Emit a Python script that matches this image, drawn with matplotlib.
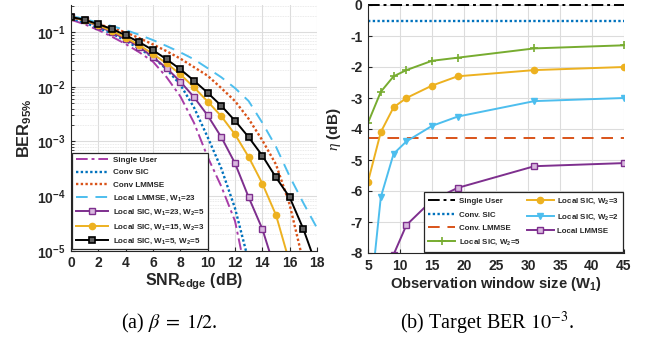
import numpy as np
import matplotlib
matplotlib.use("Agg")
import matplotlib.pyplot as plt
from matplotlib.ticker import FixedLocator, FixedFormatter, LogLocator, NullFormatter

plt.rcParams['font.family'] = ['Liberation Sans', 'DejaVu Sans']
plt.rcParams['mathtext.fontset'] = 'custom'
plt.rcParams['mathtext.rm'] = 'Liberation Sans:bold'
plt.rcParams['mathtext.bf'] = 'Liberation Sans:bold'
plt.rcParams['mathtext.it'] = 'Liberation Serif:italic'

# ---------------- data: left panel (BER vs SNR) ----------------
snr_su = [0, 1, 2, 3, 4, 5, 6, 7, 8, 9, 10, 11, 12, 12.45, 13]
ber_su = [0.17, 0.14, 0.11, 0.083, 0.061, 0.043, 0.029, 0.015, 0.0067, 0.0022, 5.2e-4, 1.5e-4, 3.5e-5, 1e-5, 3e-6]

snr_csic = [0, 1, 2, 3, 4, 5, 6, 7, 8, 9, 10, 11, 12, 12.8, 13.3]
ber_csic = [0.18, 0.15, 0.12, 0.095, 0.07, 0.05, 0.035, 0.021, 0.011, 0.0042, 1.2e-3, 3.2e-4, 6e-5, 1e-5, 3e-6]

snr_clmmse = [0, 1, 2, 3, 4, 5, 6, 7, 8, 9, 10, 11, 12, 13, 14, 15, 16, 16.8, 17.3]
ber_clmmse = [0.19, 0.165, 0.14, 0.12, 0.1, 0.078, 0.06, 0.045, 0.033, 0.023, 0.016, 0.0095, 0.0055, 0.0026, 1.05e-3, 3.8e-4, 7e-5, 1e-5, 3e-6]

snr_llmmse = [0, 1, 2, 3, 4, 5, 6, 7, 8, 9, 10, 11, 12, 13, 14, 15, 16, 17, 18, 18.5]
ber_llmmse = [0.2, 0.175, 0.15, 0.13, 0.11, 0.09, 0.072, 0.056, 0.043, 0.032, 0.022, 0.015, 0.0095, 0.0055, 0.0022, 8e-4, 2.3e-4, 7.5e-5, 2.6e-5, 1.5e-5]

snr_m = [0, 1, 2, 3, 4, 5, 6, 7, 8, 9, 10, 11, 12, 13, 14, 15, 16, 17, 18]
ber_sic23 = [0.19, 0.165, 0.13, 0.1, 0.075, 0.054, 0.035, 0.022, 0.0125, 0.0065, 0.003, 0.0012, 4e-4, 9.5e-5, 2.5e-5, 4e-6, np.nan, np.nan, np.nan]
ber_sic15 = [0.19, 0.165, 0.135, 0.105, 0.08, 0.058, 0.04, 0.027, 0.017, 0.0098, 0.0054, 0.0029, 0.00135, 5.2e-4, 1.7e-4, 4.5e-5, 6e-6, np.nan, np.nan]
ber_sic5 = [0.19, 0.17, 0.14, 0.115, 0.088, 0.066, 0.047, 0.032, 0.021, 0.013, 0.0078, 0.0045, 0.0024, 0.0012, 5.5e-4, 2.2e-4, 9.5e-5, 2.5e-5, 5e-6]

# ---------------- data: right panel (eta vs W1) ----------------
w1 = [5, 7, 9, 11, 15, 19, 31, 45]
eta_su = 0.0
eta_csic = -0.5
eta_clmmse = -4.3
eta_w5 = [-3.8, -2.8, -2.3, -2.1, -1.8, -1.7, -1.4, -1.3]
eta_w3 = [-5.7, -4.1, -3.3, -3.0, -2.6, -2.3, -2.1, -2.0]
eta_w2 = [-10.2, -6.2, -4.8, -4.4, -3.9, -3.6, -3.1, -3.0]
eta_llmmse = [-11.5, -9.6, -8.05, -7.1, -6.3, -5.9, -5.2, -5.1]

C_BLUE = '#0072BD'
C_RED = '#D95319'
C_YEL = '#EDB120'
C_PUR = '#7E2F8E'
C_GRN = '#77AC30'
C_LBL = '#4DBEEE'
C_MAG = '#A83CA8'
TXT = '#262626'

fig = plt.figure(figsize=(6.52, 3.44), dpi=100)

def style_axes(ax):
    for s in ['top', 'right']:
        ax.spines[s].set_visible(False)
    for s in ['left', 'bottom']:
        ax.spines[s].set_color(TXT)
        ax.spines[s].set_linewidth(0.8)
    ax.tick_params(which='both', direction='in', colors=TXT, labelsize=10)
    ax.tick_params(which='major', length=3, pad=4)
    ax.tick_params(which='minor', length=1.8)
    for lab in ax.get_xticklabels() + ax.get_yticklabels():
        lab.set_fontweight('bold')
    ax.set_axisbelow(True)

# ---------------- left ----------------
ax1 = fig.add_axes([71/652, 1 - 250.7/344, 246/652, 245.7/344])
lw = 1.4
ax1.plot(snr_su, ber_su, color=C_MAG, ls=(0, (6, 2, 1.5, 2)), lw=lw, label='Single User')
ax1.plot(snr_csic, ber_csic, color=C_BLUE, ls=(0, (1, 1)), lw=lw + 0.3, label='Conv SIC')
ax1.plot(snr_clmmse, ber_clmmse, color=C_RED, ls=(0, (1, 1)), lw=lw + 0.3, label='Conv LMMSE')
ax1.plot(snr_llmmse, ber_llmmse, color=C_LBL, ls=(0, (6, 4)), lw=lw, label='Local LMMSE, W$_\\mathbf{1}$=23')
ax1.plot(snr_m, ber_sic23, color=C_PUR, marker='s', ms=5, mfc='#D8B8DE', mec=C_PUR, mew=1.0, lw=lw,
         label='Local SIC, W$_\\mathbf{1}$=23, W$_\\mathbf{2}$=5')
ax1.plot(snr_m, ber_sic15, color=C_YEL, marker='o', ms=4.5, mfc=C_YEL, mec=C_YEL, lw=lw,
         label='Local SIC, W$_\\mathbf{1}$=15, W$_\\mathbf{2}$=3')
ax1.plot(snr_m, ber_sic5, color='black', marker='s', ms=5, mfc='#606060', mec='black', mew=1.2, lw=lw,
         label='Local SIC, W$_\\mathbf{1}$=5, W$_\\mathbf{2}$=5')
ax1.set_yscale('log')
ax1.set_xlim(0, 18)
ax1.set_ylim(1e-5, 10 ** -0.5)
ax1.set_xticks(range(0, 19, 2))
ax1.yaxis.set_major_locator(FixedLocator([1e-5, 1e-4, 1e-3, 1e-2, 1e-1]))
ax1.yaxis.set_major_formatter(FixedFormatter(['$\\mathbf{10^{-5}}$', '$\\mathbf{10^{-4}}$', '$\\mathbf{10^{-3}}$',
                                              '$\\mathbf{10^{-2}}$', '$\\mathbf{10^{-1}}$']))
ax1.yaxis.set_minor_locator(LogLocator(base=10, subs=np.arange(2, 10), numticks=20))
ax1.yaxis.set_minor_formatter(NullFormatter())
ax1.grid(True, which='major', color='#DCDCDC', lw=0.8)
ax1.grid(True, which='minor', axis='y', color='#E4E4E4', lw=0.6, ls=(0, (1, 1)))
style_axes(ax1)
ax1.set_xlabel('SNR$_{\\mathbf{edge}}$ (dB)', fontsize=11.5, fontweight='bold', color=TXT, labelpad=1)
ax1.set_ylabel('BER$_{\\mathbf{95\\%}}$', fontsize=11.8, fontweight='bold', color=TXT, labelpad=2)
leg1 = ax1.legend(loc='lower left', fontsize=5.8, handlelength=4.0, labelspacing=0.6,
                  fancybox=False, framealpha=1, edgecolor=TXT, borderaxespad=0.15,
                  borderpad=0.45, handletextpad=0.6)
leg1.get_frame().set_linewidth(0.9)
for t in leg1.get_texts():
    t.set_fontweight('bold')
    t.set_color(TXT)

# ---------------- right ----------------
ax2 = fig.add_axes([368/652, 1 - 253/344, 256/652, 248/344])
ax2.axhline(eta_su, color='black', ls=(0, (6, 2, 1.5, 2)), lw=lw, label='Single User', clip_on=False)
ax2.axhline(eta_csic, color=C_BLUE, ls=(0, (1, 1)), lw=lw + 0.3, label='Conv. SIC')
ax2.axhline(eta_clmmse, color=C_RED, ls=(0, (6, 4)), lw=lw, label='Conv. LMMSE')
ax2.plot(w1, eta_w5, color=C_GRN, marker='+', ms=6, mew=1.2, lw=lw, label='Local SIC, W$_\\mathbf{2}$=5')
ax2.plot(w1, eta_w3, color=C_YEL, marker='o', ms=4.5, lw=lw, label='Local SIC, W$_\\mathbf{2}$=3')
ax2.plot(w1, eta_w2, color=C_LBL, marker='v', ms=5, lw=lw, label='Local SIC, W$_\\mathbf{2}$=2')
ax2.plot(w1, eta_llmmse, color=C_PUR, marker='s', ms=5, mfc='#D8B8DE', mec=C_PUR, mew=1.0, lw=lw,
         label='Local LMMSE')
ax2.set_xlim(5, 45)
ax2.set_ylim(-8, 0)
ax2.set_xticks(range(5, 46, 5))
ax2.set_yticks(range(-8, 1))
ax2.set_yticklabels([str(v) for v in range(-8, 1)])
ax2.grid(True, which='major', color='#DCDCDC', lw=0.8)
style_axes(ax2)
ax2.set_xlabel('Observation window size (W$_\\mathbf{1}$)', fontsize=10.6, fontweight='bold', color=TXT, labelpad=2)
ax2.set_ylabel('$\\eta$ (dB)', fontsize=11, fontweight='bold', color=TXT, labelpad=5)
leg2 = ax2.legend(loc='lower right', ncol=2, fontsize=5.7, handlelength=3.4, labelspacing=0.75,
                  fancybox=False, framealpha=1, edgecolor=TXT, borderaxespad=0.1,
                  borderpad=0.6, handletextpad=0.4, columnspacing=0.8)
leg2.get_frame().set_linewidth(0.9)
for t in leg2.get_texts():
    t.set_fontweight('bold')
    t.set_color(TXT)

# ---------------- captions ----------------
fig.text(169/652, 1 - 323/344, '(a) $\\beta\\;=\\;1/2$.', ha='center', va='center', fontsize=14.5,
         family='Liberation Serif', math_fontfamily='stix', color='black')
fig.text(487/652, 1 - 323/344, '(b) Target BER $10^{-3}$.', ha='center', va='center', fontsize=14.5,
         family='Liberation Serif', math_fontfamily='stix', color='black')

fig.savefig('out.png', dpi=100)
